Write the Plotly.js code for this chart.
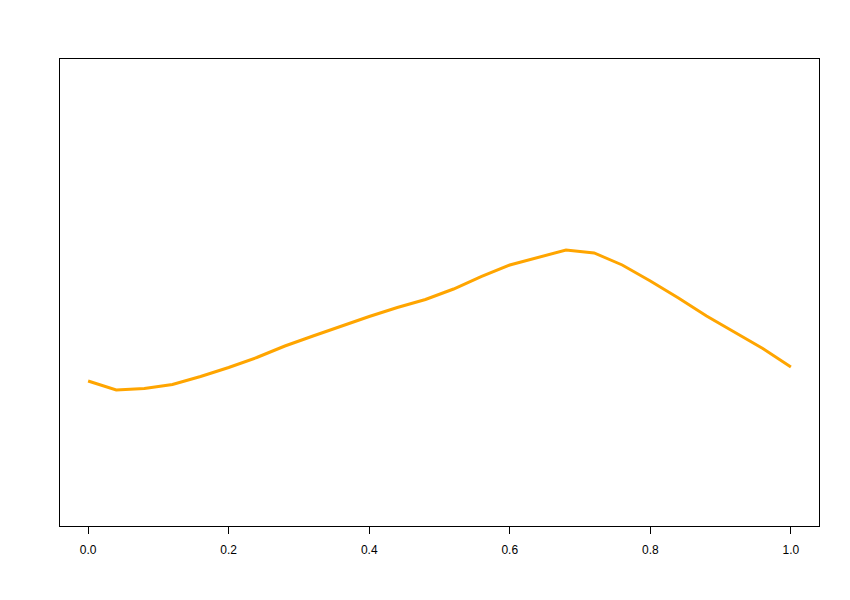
<!DOCTYPE html>
<html>
<head>
<meta charset="utf-8">
<script src="https://cdn.plot.ly/plotly-3.0.1.min.js"></script>
<style>html,body{margin:0;padding:0;background:#fff;}#chart{width:850px;height:600px;}</style>
</head>
<body>
<div id="chart"></div>
<script>
const xValues = [0.00,0.04,0.08,0.12,0.16,0.20,0.24,0.28,0.32,0.36,0.40,0.44,0.48,0.52,0.56,0.60,0.64,0.68,0.72,0.76,0.80,0.84,0.88,0.92,0.96,1.00];
const yValues = [31.05,29.12,29.44,30.30,32.01,33.94,36.08,38.54,40.69,42.83,44.86,46.79,48.50,50.75,53.43,55.89,57.49,59.10,58.46,55.89,52.46,48.82,44.97,41.54,38.01,34.05];
const tickVals = [0,0.2,0.4,0.6,0.8,1.0];
const tickText = ["0.0","0.2","0.4","0.6","0.8","1.0"];

Plotly.newPlot('chart', [{
  x: xValues, y: yValues, type: 'scatter', mode: 'lines',
  line: {color: '#FFA500', width: 3}, hoverinfo: 'skip'
}], {
  width: 850, height: 600,
  margin: {l: 60, r: 31, t: 59, b: 74},
  paper_bgcolor: '#fff', plot_bgcolor: '#fff',
  showlegend: false,
  font: {family: 'Liberation Sans, Arial, sans-serif', size: 12, color: '#000'},
  xaxis: {
    range: [-0.04, 1.04], showgrid: false, zeroline: false,
    showline: true, mirror: true, linecolor: '#000', linewidth: 1,
    tickmode: 'array', tickvals: tickVals, ticktext: tickText,
    ticks: 'outside', ticklen: 7, tickcolor: '#000', tickwidth: 1,
    tickfont: {size: 12, color: '#000'}, ticklabelstandoff: 6
  },
  yaxis: {
    range: [0, 100], showgrid: false, zeroline: false,
    showline: true, mirror: true, linecolor: '#000', linewidth: 1,
    showticklabels: false, ticks: ''
  }
}, {staticPlot: true});
</script>
</body>
</html>
